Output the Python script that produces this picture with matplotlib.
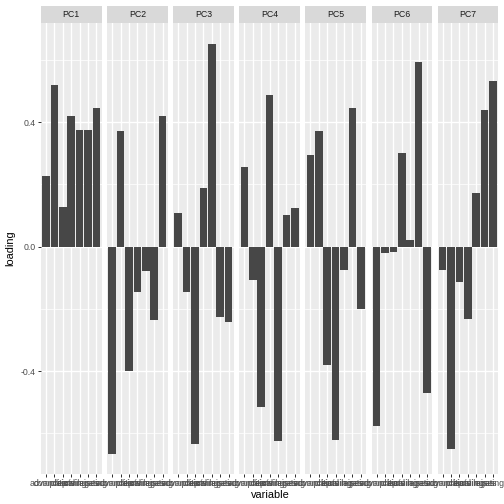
import numpy as np
import matplotlib
matplotlib.use("Agg")
import matplotlib.pyplot as plt

variables = ["advance", "complaints", "critical", "learning", "privileges", "raises", "rating"]
components = ["PC1", "PC2", "PC3", "PC4", "PC5", "PC6", "PC7"]

pc1 = [0.228, 0.521, 0.129, 0.421, 0.376, 0.376, 0.447]
pc2 = [-0.665, 0.373, -0.399, -0.145, -0.077, -0.235, 0.421]
pc3 = [0.109, -0.145, -0.633, 0.187, 0.653, -0.225, -0.241]
pc4 = [0.257, -0.108, -0.517, 0.486, -0.626, 0.103, 0.125]
pc5 = [0.296, 0.373, -0.379, -0.620, -0.076, 0.447, -0.202]
pc6 = [-0.578, -0.021, -0.018, 0.302, 0.020, 0.595, -0.472]
pc7 = [-0.076, -0.649, -0.115, -0.234, 0.174, 0.438, 0.534]
loadings = [pc1, pc2, pc3, pc4, pc5, pc6, pc7]

W = H = 504
fig = plt.figure(figsize=(7, 7), dpi=72)
fig.patch.set_facecolor("white")

left0, step, pw = 41, 66.1, 60.5
ptop, pbot = 23, 474
strip_h = 17

allv = np.concatenate([np.array(v) for v in loadings])
rng = allv.max() - allv.min()
ylim = (allv.min() - 0.05 * rng, allv.max() + 0.05 * rng)
x = np.arange(len(variables))

for i, (name, vals) in enumerate(zip(components, loadings)):
    l = left0 + i * step
    ax = fig.add_axes([l / W, (H - pbot) / H, pw / W, (pbot - ptop) / H])
    ax.set_facecolor("#EBEBEB")
    for s in ax.spines.values():
        s.set_visible(False)
    ax.set_xlim(-0.6, len(variables) - 0.4)
    ax.set_ylim(*ylim)
    ax.set_yticks([-0.4, 0.0, 0.4])
    ax.set_yticks([-0.6, -0.2, 0.2, 0.6], minor=True)
    ax.set_xticks(x)
    ax.set_xticklabels(variables, fontsize=8.8, color="#4D4D4D", family="Liberation Sans")
    ax.grid(True, which="major", color="white", linewidth=1.4)
    ax.grid(True, which="minor", axis="y", color="white", linewidth=0.7)
    ax.set_axisbelow(True)
    ax.tick_params(axis="x", length=2.75, width=1.0, color="#333333", pad=2.5)
    ax.tick_params(axis="y", which="minor", length=0)
    if i == 0:
        ax.set_yticklabels(["-0.4", "0.0", "0.4"], fontsize=8.8, color="#4D4D4D",
                           family="Liberation Sans")
        ax.tick_params(axis="y", length=2.75, width=1.0, color="#333333", pad=2.5)
    else:
        ax.tick_params(axis="y", which="major", length=0, labelleft=False)
    ax.bar(x, vals, width=0.9, color="#474747")

    sax = fig.add_axes([l / W, (H - ptop) / H, pw / W, strip_h / H])
    sax.set_facecolor("#D9D9D9")
    for s in sax.spines.values():
        s.set_visible(False)
    sax.set_xticks([])
    sax.set_yticks([])
    sax.text(0.5, 0.5, name, ha="center", va="center", fontsize=8.8,
             color="#1A1A1A", family="Liberation Sans", transform=sax.transAxes)

fig.text(270 / W, 1 - 495 / H, "variable", ha="center", va="center", fontsize=11,
         family="Liberation Sans")
fig.text(10 / W, 1 - 248 / H, "loading", ha="center", va="center", rotation=90,
         fontsize=11, family="Liberation Sans")

fig.savefig("out.png", dpi=72)
